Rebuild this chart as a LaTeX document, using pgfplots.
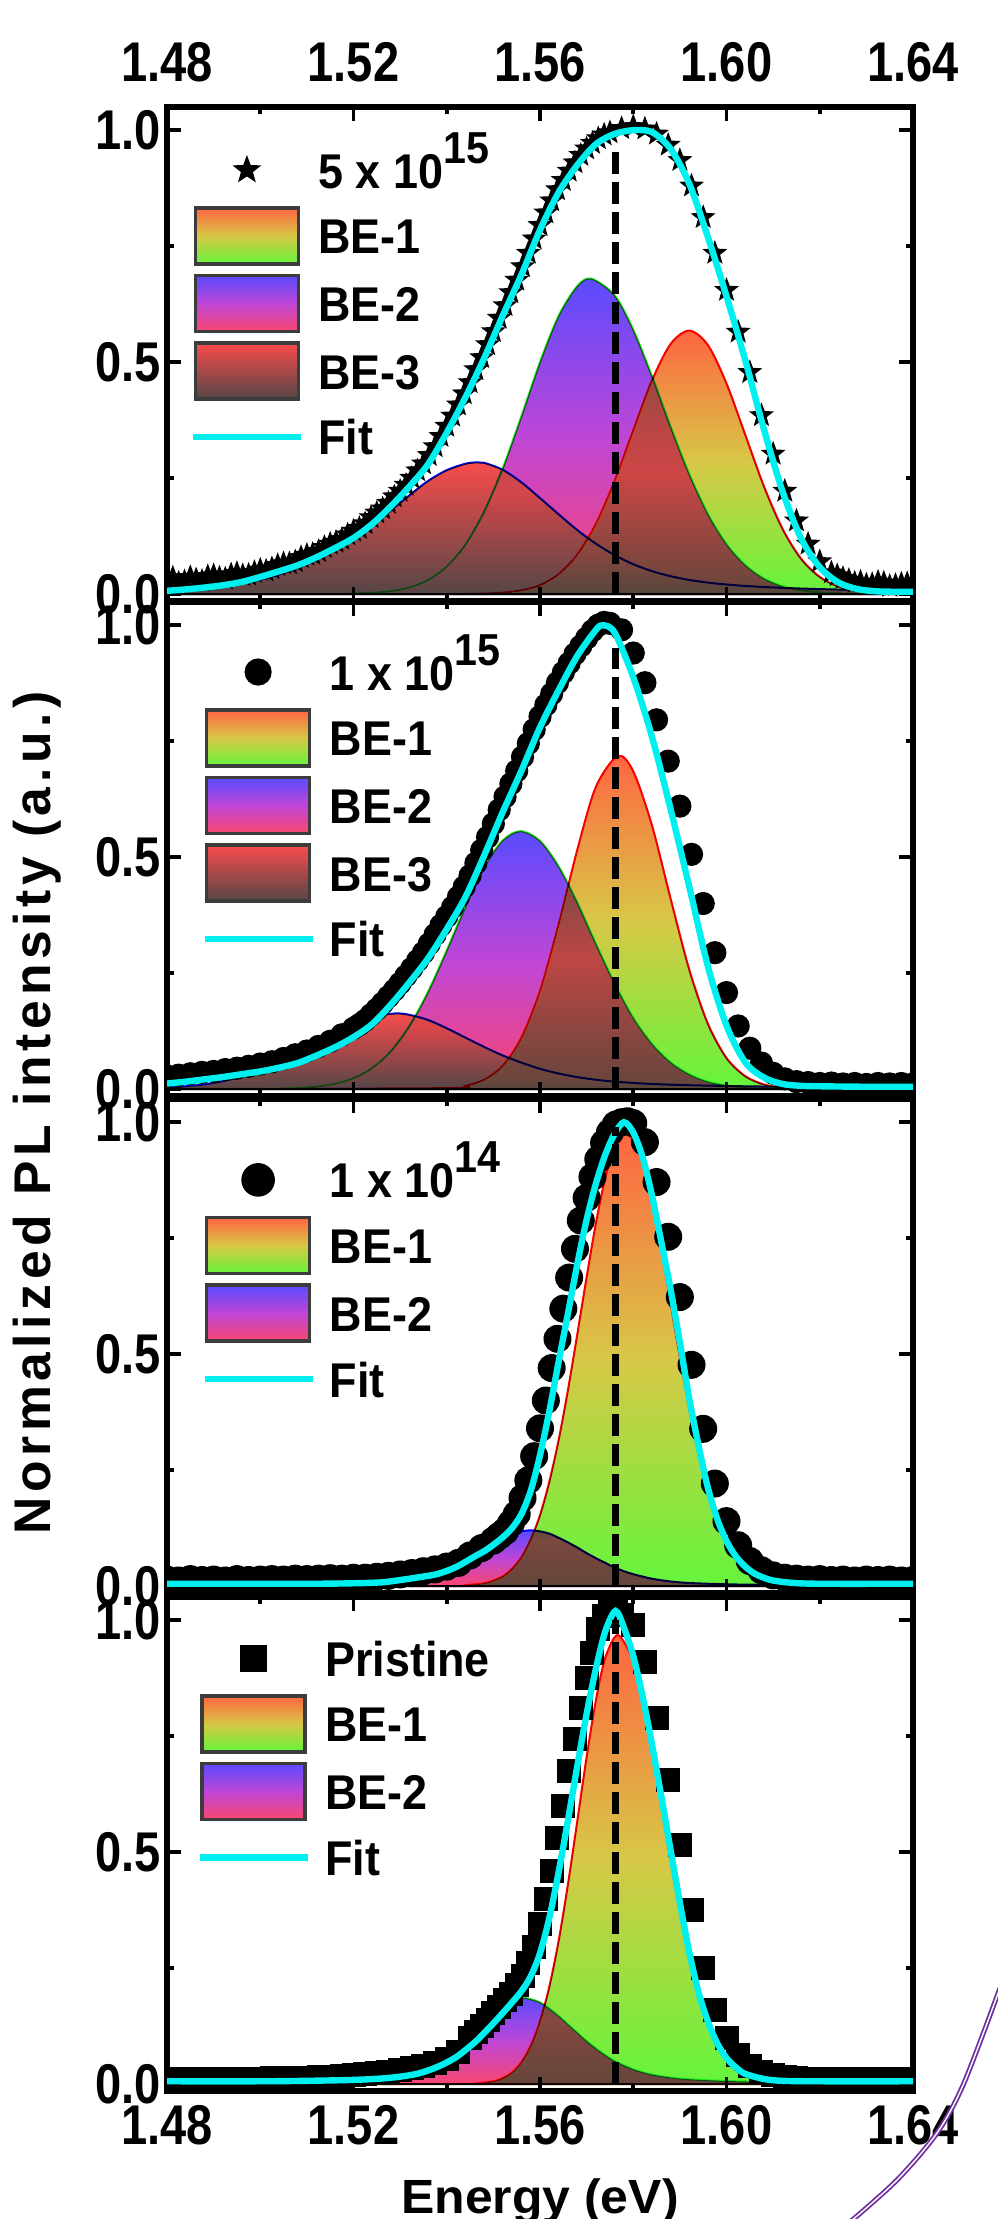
\documentclass[border=0pt]{standalone}
\usepackage{fontspec}
\setmainfont[FakeStretch=0.84]{Liberation Sans}
\newfontfamily\legfont[FakeStretch=0.92]{Liberation Sans}
\newfontfamily\xlabfont[FakeStretch=1.04]{Liberation Sans}
\newfontfamily\ylabfont[LetterSpace=9]{Liberation Sans}
\usepackage{pgfplots}
\pgfplotsset{compat=1.18}
\usetikzlibrary{shadings}

\definecolor{beoneT}{RGB}{255,100,65}
\definecolor{beoneM}{RGB}{215,200,70}
\definecolor{beoneB}{RGB}{100,245,60}
\definecolor{betwoT}{RGB}{90,75,255}
\definecolor{betwoM}{RGB}{190,70,215}
\definecolor{betwoB}{RGB}{250,70,110}
\definecolor{bethreeT}{RGB}{250,75,75}
\definecolor{bethreeB}{RGB}{85,70,70}
\definecolor{fitcyan}{RGB}{0,240,240}
\definecolor{arcpurple}{RGB}{112,48,160}
\definecolor{legborder}{RGB}{60,60,60}
\definecolor{outgreen}{RGB}{20,235,20}

\pgfdeclareplotmark{fstar}{%
 \pgfpathmoveto{\pgfpointpolar{90}{\pgfplotmarksize}}%
 \pgfpathlineto{\pgfpointpolar{126}{0.42\pgfplotmarksize}}%
 \pgfpathlineto{\pgfpointpolar{162}{\pgfplotmarksize}}%
 \pgfpathlineto{\pgfpointpolar{198}{0.42\pgfplotmarksize}}%
 \pgfpathlineto{\pgfpointpolar{234}{\pgfplotmarksize}}%
 \pgfpathlineto{\pgfpointpolar{270}{0.42\pgfplotmarksize}}%
 \pgfpathlineto{\pgfpointpolar{306}{\pgfplotmarksize}}%
 \pgfpathlineto{\pgfpointpolar{342}{0.42\pgfplotmarksize}}%
 \pgfpathlineto{\pgfpointpolar{18}{\pgfplotmarksize}}%
 \pgfpathlineto{\pgfpointpolar{54}{0.42\pgfplotmarksize}}%
 \pgfpathclose
 \pgfusepathqfillstroke}

\pgfplotsset{
 rectlegend/.style={legend image code/.code={\draw[##1] (0pt,-7pt) rectangle (25.75pt,7pt);}},
 markerlegend/.style={legend image code/.code={\path[draw=none,fill=none] (0pt,-7pt) rectangle (25.75pt,7pt); \draw[##1] plot coordinates {(12.9pt,0pt)};}},
 linelegend/.style={legend image code/.code={\path[draw=none,fill=none] (0pt,-7pt) rectangle (25.75pt,7pt); \draw[##1] (-0.5pt,0pt) -- (26.5pt,0pt);}},
 panel/.style={
  scale only axis, width=186.5pt, height=123.5pt,
  xmin=1.48, xmax=1.64, ymin=-0.015, ymax=1.05,
  xtick={1.48,1.52,1.56,1.60,1.64}, minor x tick num=1,
  ytick={0,0.5,1}, minor y tick num=1,
  tick align=inside, major tick length=3.5pt, minor tick length=1.8pt,
  every tick/.append style={black, line width=0.9pt},
  axis line style={line width=1.3pt},
  /pgf/number format/assume math mode=true,
  tick label style={font=\fontsize{14}{16}\selectfont\bfseries},
  xticklabel style={/pgf/number format/fixed, /pgf/number format/fixed zerofill, /pgf/number format/precision=2},
  yticklabel style={xshift=2pt, /pgf/number format/fixed, /pgf/number format/fixed zerofill, /pgf/number format/precision=1},
  clip marker paths=true,
  legend cell align=left,
  legend style={draw=none, fill=none, anchor=north west, inner sep=0pt, outer sep=0pt,
    row sep=2pt, column sep=2.5pt, font=\legfont\fontsize{12.2}{14}\selectfont\bfseries,
    nodes={inner sep=1pt, text height=9.5pt, text depth=0.5pt}},
 },
 beone/.style={smooth, draw=red, line width=0.5pt, top color=beoneT, bottom color=beoneB, middle color=beoneM, blend mode=darken, forget plot},
 betwo/.style={smooth, draw=outgreen, line width=0.5pt, top color=betwoT, bottom color=betwoB, middle color=betwoM, blend mode=darken, forget plot},
 bethree/.style={smooth, draw=blue, line width=0.5pt, top color=bethreeT, bottom color=bethreeB, blend mode=darken, forget plot},
 fitline/.style={smooth, fitcyan, line width=1.6pt, forget plot},
 dline/.style={black, line width=1.8pt, dash pattern=on 5.5pt off 2pt, forget plot},
}

\begin{document}
\begin{tikzpicture}
\useasboundingbox (0,0) rectangle (249.25pt,-554.75pt);

% ---------------- Panel 1 : 5 x 10^15 ----------------
\begin{axis}[panel, at={(41.75pt,-26.75pt)}, anchor=north west,
  xticklabel pos=upper, xticklabel style={yshift=2.6pt},
  legend style={at={(0.031,0.929)}}]
\addlegendimage{only marks, mark=fstar, mark size=3.2pt, black, markerlegend}
\addlegendentry{5 x 10\raisebox{6.25pt}{\fontsize{11.2}{12}\selectfont 15}}
\addlegendimage{rectlegend, draw=legborder, line width=0.9pt, top color=beoneT, bottom color=beoneB, middle color=beoneM}
\addlegendentry{BE-1}
\addlegendimage{rectlegend, draw=legborder, line width=0.9pt, top color=betwoT, bottom color=betwoB, middle color=betwoM}
\addlegendentry{BE-2}
\addlegendimage{rectlegend, draw=legborder, line width=0.9pt, top color=bethreeT, bottom color=bethreeB}
\addlegendentry{BE-3}
\addlegendimage{linelegend, fitcyan, line width=1.6pt}
\addlegendentry{Fit}

\addplot[only marks, mark=fstar, mark size=2.7pt, black, forget plot] coordinates {
(1.4800,0.030) (1.48125,0.035) (1.4825,0.024) (1.48375,0.027) (1.4850,0.036) (1.48625,0.031) (1.4875,0.028) (1.48875,0.038) (1.4900,0.040) (1.49125,0.035) (1.4925,0.033) (1.49375,0.042) (1.4950,0.045) (1.49625,0.040) (1.4975,0.041) (1.49875,0.047)
(1.5000,0.052) (1.50125,0.050) (1.5025,0.055) (1.50375,0.062) (1.5050,0.066) (1.50625,0.066) (1.5075,0.070) (1.50875,0.079) (1.5100,0.084) (1.51125,0.086) (1.5125,0.092) (1.51375,0.101) (1.5150,0.108) (1.51625,0.112) (1.5175,0.118) (1.51875,0.128)
(1.5200,0.136) (1.52125,0.142) (1.5225,0.152) (1.52375,0.165) (1.5250,0.175) (1.52625,0.184) (1.5275,0.196) (1.52875,0.210) (1.5300,0.222) (1.53125,0.235) (1.5325,0.250) (1.53375,0.266) (1.5350,0.281) (1.53625,0.299) (1.5375,0.318) (1.53875,0.340)
(1.5400,0.362) (1.54125,0.384) (1.5425,0.408) (1.54375,0.432) (1.5450,0.456) (1.54625,0.484) (1.5475,0.510) (1.54875,0.538) (1.5500,0.566) (1.55125,0.595) (1.5525,0.622) (1.55375,0.650) (1.5550,0.677) (1.55625,0.706) (1.5575,0.735) (1.55875,0.766)
(1.5600,0.795) (1.56125,0.822) (1.5625,0.848) (1.56375,0.872) (1.5650,0.892) (1.56625,0.912) (1.5675,0.930) (1.56875,0.946) (1.5700,0.960) (1.57125,0.972) (1.5725,0.982) (1.57375,0.990) (1.5750,0.995) (1.5775,1.004) (1.5800,1.008) (1.5825,1.003) (1.5850,0.992) (1.5875,0.968)
(1.5900,0.935) (1.5925,0.880) (1.5950,0.812) (1.5975,0.735) (1.6000,0.655) (1.6025,0.565) (1.6050,0.478) (1.6075,0.385)
(1.6100,0.302) (1.6125,0.222) (1.6150,0.158) (1.6175,0.108) (1.6200,0.070) (1.6225,0.046) (1.62375,0.040) (1.6250,0.034) (1.62625,0.030) (1.6275,0.024) (1.62875,0.026)
(1.6300,0.020) (1.63125,0.021) (1.6325,0.026) (1.63375,0.024) (1.6350,0.017) (1.63625,0.019) (1.6375,0.022) (1.63875,0.023) (1.6400,0.018)};

\addplot[beone] coordinates {
(1.48,0) (1.54,0) (1.544,0.0003) (1.548,0.001) (1.552,0.003) (1.556,0.008) (1.560,0.019) (1.564,0.043) (1.568,0.085) (1.572,0.152) (1.576,0.244) (1.580,0.353) (1.584,0.460) (1.588,0.539) (1.592,0.568) (1.596,0.537) (1.600,0.454) (1.604,0.344) (1.608,0.233) (1.612,0.141) (1.616,0.076) (1.620,0.037) (1.624,0.016) (1.628,0.006) (1.632,0.002) (1.636,0.001) (1.64,0)} \closedcycle;

\addplot[betwo] coordinates {
(1.48,0) (1.516,0) (1.520,0.001) (1.524,0.0025) (1.528,0.006) (1.532,0.014) (1.536,0.030) (1.540,0.059) (1.544,0.106) (1.548,0.177) (1.552,0.271) (1.556,0.383) (1.560,0.500) (1.564,0.600) (1.568,0.664) (1.571,0.680) (1.576,0.644) (1.580,0.570) (1.584,0.470) (1.588,0.361) (1.592,0.259) (1.596,0.173) (1.600,0.108) (1.604,0.063) (1.608,0.034) (1.612,0.017) (1.616,0.008) (1.620,0.0036) (1.624,0.0015) (1.628,0.0005) (1.64,0)} \closedcycle;

\addplot[bethree] coordinates {
(1.480,0.008) (1.484,0.010) (1.488,0.013) (1.492,0.017) (1.496,0.023) (1.500,0.031) (1.504,0.042) (1.508,0.056) (1.512,0.074) (1.516,0.094) (1.520,0.117) (1.524,0.146) (1.528,0.180) (1.532,0.213) (1.536,0.244) (1.540,0.267) (1.544,0.281) (1.5465,0.284) (1.548,0.283) (1.552,0.268) (1.556,0.241) (1.560,0.207) (1.564,0.172) (1.568,0.138) (1.572,0.1085) (1.576,0.084) (1.580,0.0644) (1.584,0.0495) (1.588,0.0385) (1.592,0.0304) (1.596,0.0247) (1.600,0.0206) (1.604,0.0175) (1.608,0.0152) (1.612,0.0134) (1.616,0.0119) (1.620,0.0107) (1.624,0.0097) (1.628,0.0088) (1.632,0.0081) (1.636,0.0074) (1.640,0.0068)} \closedcycle;

\addplot[fitline] coordinates {
(1.480,0.007) (1.484,0.010) (1.488,0.014) (1.492,0.019) (1.496,0.026) (1.500,0.037) (1.504,0.049) (1.508,0.062) (1.512,0.079) (1.516,0.099) (1.520,0.121) (1.524,0.151) (1.528,0.189) (1.532,0.232) (1.536,0.280) (1.540,0.348) (1.544,0.424) (1.548,0.508) (1.552,0.600) (1.556,0.688) (1.560,0.785) (1.564,0.866) (1.568,0.925) (1.572,0.970) (1.576,0.992) (1.580,1.000) (1.584,0.996) (1.588,0.960) (1.592,0.885) (1.596,0.770) (1.600,0.642) (1.604,0.505) (1.608,0.356) (1.612,0.222) (1.616,0.120) (1.620,0.058) (1.624,0.025) (1.628,0.011) (1.632,0.006) (1.636,0.005) (1.640,0.005)};

\addplot[dline] coordinates {(1.5762,0) (1.5762,0.97)};
\end{axis}

% ---------------- Panel 2 : 1 x 10^15 ----------------
\begin{axis}[panel, at={(41.75pt,-150.5pt)}, anchor=north west,
  xticklabels={}, legend style={at={(0.046,0.915)}}]
\addlegendimage{only marks, mark=*, mark size=3.2pt, black, markerlegend}
\addlegendentry{1 x 10\raisebox{6.25pt}{\fontsize{11.2}{12}\selectfont 15}}
\addlegendimage{rectlegend, draw=legborder, line width=0.9pt, top color=beoneT, bottom color=beoneB, middle color=beoneM}
\addlegendentry{BE-1}
\addlegendimage{rectlegend, draw=legborder, line width=0.9pt, top color=betwoT, bottom color=betwoB, middle color=betwoM}
\addlegendentry{BE-2}
\addlegendimage{rectlegend, draw=legborder, line width=0.9pt, top color=bethreeT, bottom color=bethreeB}
\addlegendentry{BE-3}
\addlegendimage{linelegend, fitcyan, line width=1.6pt}
\addlegendentry{Fit}

\addplot[only marks, mark=*, mark size=2.7pt, black, forget plot] coordinates {
(1.4800,0.028) (1.4825,0.030) (1.4850,0.033) (1.4875,0.036) (1.4900,0.038) (1.4925,0.042) (1.4950,0.045) (1.4975,0.049) (1.5000,0.054) (1.5025,0.059) (1.5050,0.066) (1.5075,0.074) (1.5100,0.082) (1.5125,0.092) (1.5150,0.103) (1.5175,0.117)
(1.5200,0.131) (1.52125,0.139) (1.5225,0.148) (1.52375,0.160) (1.5250,0.172) (1.52625,0.185) (1.5275,0.199) (1.52875,0.213) (1.5300,0.228) (1.53125,0.244) (1.5325,0.260) (1.53375,0.277) (1.5350,0.294) (1.53625,0.313) (1.5375,0.333) (1.53875,0.353)
(1.5400,0.372) (1.54125,0.392) (1.5425,0.414) (1.54375,0.436) (1.5450,0.460) (1.54625,0.487) (1.5475,0.515) (1.54875,0.543) (1.5500,0.572) (1.55125,0.602) (1.5525,0.630) (1.55375,0.658) (1.5550,0.686) (1.55625,0.716) (1.5575,0.745) (1.55875,0.775)
(1.5600,0.803) (1.56125,0.828) (1.5625,0.852) (1.56375,0.876) (1.5650,0.898) (1.56625,0.918) (1.5675,0.938) (1.56875,0.955) (1.5700,0.972) (1.57125,0.988) (1.5725,1.000) (1.57375,1.006) (1.5750,1.004) (1.5775,0.990)
(1.5800,0.940) (1.5825,0.876) (1.5850,0.796) (1.5875,0.707) (1.5900,0.610) (1.5925,0.506) (1.5950,0.400) (1.5975,0.294)
(1.6000,0.208) (1.6025,0.136) (1.6050,0.088) (1.6075,0.056) (1.6100,0.034) (1.6125,0.022) (1.6150,0.016) (1.6175,0.014) (1.6200,0.012) (1.6225,0.013) (1.6250,0.011) (1.6275,0.012) (1.6300,0.010) (1.6325,0.012) (1.6350,0.011) (1.6375,0.012) (1.6400,0.011)};

\addplot[beone] coordinates {
(1.48,0) (1.540,0.002) (1.544,0.007) (1.548,0.020) (1.552,0.050) (1.556,0.111) (1.560,0.212) (1.564,0.355) (1.568,0.516) (1.572,0.652) (1.5767,0.718) (1.580,0.685) (1.584,0.569) (1.588,0.411) (1.592,0.258) (1.596,0.141) (1.600,0.067) (1.604,0.028) (1.608,0.010) (1.612,0.003) (1.616,0.001) (1.64,0)} \closedcycle;

\addplot[betwo] coordinates {
(1.48,0) (1.500,0) (1.504,0.001) (1.508,0.002) (1.512,0.005) (1.516,0.011) (1.520,0.023) (1.524,0.045) (1.528,0.081) (1.532,0.136) (1.536,0.210) (1.540,0.299) (1.544,0.393) (1.548,0.478) (1.552,0.536) (1.5558,0.556) (1.560,0.535) (1.564,0.480) (1.568,0.402) (1.572,0.313) (1.576,0.228) (1.580,0.154) (1.584,0.098) (1.588,0.058) (1.592,0.032) (1.596,0.016) (1.600,0.008) (1.604,0.003) (1.608,0.001) (1.64,0)} \closedcycle;

\addplot[bethree] coordinates {
(1.480,0.003) (1.484,0.006) (1.488,0.010) (1.492,0.017) (1.496,0.027) (1.500,0.041) (1.504,0.058) (1.508,0.079) (1.512,0.101) (1.516,0.123) (1.520,0.143) (1.524,0.156) (1.529,0.163) (1.532,0.160) (1.536,0.149) (1.540,0.131) (1.544,0.111) (1.548,0.091) (1.552,0.0725) (1.556,0.057) (1.560,0.0437) (1.564,0.0335) (1.568,0.0258) (1.572,0.020) (1.576,0.016) (1.580,0.0132) (1.584,0.011) (1.588,0.0095) (1.592,0.0083) (1.600,0.0066) (1.610,0.0052) (1.620,0.0041) (1.640,0.0028)} \closedcycle;

\addplot[fitline] coordinates {
(1.480,0.012) (1.484,0.016) (1.488,0.021) (1.492,0.026) (1.496,0.032) (1.500,0.038) (1.504,0.046) (1.508,0.056) (1.512,0.072) (1.516,0.090) (1.520,0.112) (1.524,0.140) (1.528,0.182) (1.532,0.230) (1.536,0.282) (1.540,0.345) (1.544,0.414) (1.548,0.503) (1.552,0.597) (1.556,0.686) (1.560,0.780) (1.564,0.860) (1.568,0.934) (1.572,0.990) (1.5735,1.000) (1.576,0.984) (1.580,0.888) (1.584,0.760) (1.588,0.604) (1.592,0.437) (1.596,0.265) (1.600,0.137) (1.604,0.058) (1.608,0.025) (1.612,0.011) (1.616,0.007) (1.620,0.006) (1.630,0.005) (1.640,0.005)};

\addplot[dline] coordinates {(1.5762,0) (1.5762,0.95)};
\end{axis}

% ---------------- Panel 3 : 1 x 10^14 ----------------
\begin{axis}[panel, at={(41.75pt,-274.75pt)}, anchor=north west,
  xticklabels={}, legend style={at={(0.046,0.893)}}]
\addlegendimage{only marks, mark=*, mark size=4pt, black, markerlegend}
\addlegendentry{1 x 10\raisebox{6.25pt}{\fontsize{11.2}{12}\selectfont 14}}
\addlegendimage{rectlegend, draw=legborder, line width=0.9pt, top color=beoneT, bottom color=beoneB, middle color=beoneM}
\addlegendentry{BE-1}
\addlegendimage{rectlegend, draw=legborder, line width=0.9pt, top color=betwoT, bottom color=betwoB, middle color=betwoM}
\addlegendentry{BE-2}
\addlegendimage{linelegend, fitcyan, line width=1.6pt}
\addlegendentry{Fit}

\addplot[only marks, mark=*, mark size=3.3pt, black, forget plot] coordinates {
(1.4800,0.014) (1.4825,0.012) (1.4850,0.015) (1.4875,0.013) (1.4900,0.014) (1.4925,0.012) (1.4950,0.015) (1.4975,0.013) (1.5000,0.014) (1.5025,0.015) (1.5050,0.014) (1.5075,0.016) (1.5100,0.015) (1.5125,0.016) (1.5150,0.017) (1.5175,0.016)
(1.5200,0.018) (1.5225,0.018) (1.5250,0.020) (1.5275,0.022) (1.5300,0.025) (1.5325,0.028) (1.5350,0.032) (1.5375,0.036) (1.5400,0.042) (1.5425,0.050) (1.5450,0.066) (1.5475,0.082) (1.5500,0.098) (1.55125,0.108) (1.5525,0.118) (1.55375,0.135)
(1.5550,0.155) (1.55625,0.190) (1.5575,0.228) (1.55875,0.280) (1.5600,0.340) (1.56125,0.400) (1.5625,0.470) (1.56375,0.533) (1.5650,0.598) (1.56625,0.665) (1.5675,0.727) (1.56875,0.788) (1.5700,0.837) (1.57125,0.882) (1.5725,0.920) (1.57375,0.955)
(1.5750,0.978) (1.57625,0.995) (1.5775,1.000) (1.57875,1.002) (1.5800,0.998) (1.5825,0.957) (1.5850,0.871) (1.5875,0.753) (1.5900,0.623) (1.5925,0.477)
(1.5950,0.339) (1.5975,0.221) (1.6000,0.140) (1.6025,0.088) (1.6050,0.054) (1.6075,0.034) (1.6100,0.023) (1.6125,0.018) (1.6150,0.016) (1.6175,0.014) (1.6200,0.015) (1.6225,0.013) (1.6250,0.014) (1.6275,0.012) (1.6300,0.014) (1.6325,0.013) (1.6350,0.014) (1.6375,0.012) (1.6400,0.013)};

\addplot[beone] coordinates {
(1.48,0) (1.540,0) (1.544,0.002) (1.548,0.006) (1.550,0.012) (1.552,0.021) (1.554,0.037) (1.556,0.062) (1.558,0.100) (1.560,0.153) (1.562,0.225) (1.564,0.315) (1.566,0.423) (1.568,0.543) (1.570,0.666) (1.572,0.783) (1.574,0.880) (1.576,0.947) (1.578,0.975) (1.580,0.961) (1.582,0.911) (1.584,0.830) (1.586,0.726) (1.588,0.610) (1.590,0.493) (1.592,0.383) (1.594,0.286) (1.596,0.205) (1.598,0.141) (1.600,0.094) (1.602,0.060) (1.604,0.036) (1.606,0.021) (1.608,0.012) (1.610,0.007) (1.614,0.002) (1.620,0) (1.64,0)} \closedcycle;

\addplot[betwo, draw=blue] coordinates {
(1.480,0.0009) (1.500,0.0016) (1.520,0.0037) (1.530,0.0086) (1.534,0.0142) (1.538,0.0244) (1.542,0.0406) (1.546,0.063) (1.550,0.0888) (1.552,0.101) (1.554,0.111) (1.556,0.118) (1.558,0.120) (1.560,0.118) (1.562,0.113) (1.564,0.104) (1.566,0.094) (1.568,0.083) (1.570,0.071) (1.572,0.060) (1.574,0.050) (1.576,0.040) (1.578,0.032) (1.580,0.0256) (1.584,0.0158) (1.588,0.0099) (1.592,0.0066) (1.600,0.0038) (1.610,0.0024) (1.620,0.0017) (1.640,0.001)} \closedcycle;

\addplot[fitline] coordinates {
(1.480,0.005) (1.500,0.005) (1.512,0.005) (1.520,0.006) (1.526,0.008) (1.530,0.013) (1.534,0.019) (1.538,0.026) (1.542,0.041) (1.546,0.064) (1.548,0.075) (1.550,0.089) (1.552,0.105) (1.554,0.125) (1.556,0.155) (1.558,0.205) (1.560,0.282) (1.562,0.377) (1.564,0.484) (1.566,0.588) (1.568,0.694) (1.570,0.790) (1.572,0.868) (1.574,0.930) (1.576,0.975) (1.578,1.000) (1.580,0.978) (1.582,0.925) (1.584,0.843) (1.586,0.743) (1.588,0.640) (1.590,0.525) (1.592,0.405) (1.594,0.303) (1.596,0.212) (1.598,0.145) (1.600,0.097) (1.602,0.064) (1.604,0.042) (1.606,0.027) (1.608,0.018) (1.610,0.012) (1.614,0.007) (1.620,0.005) (1.640,0.005)};

\addplot[dline] coordinates {(1.5762,0) (1.5762,0.99)};
\end{axis}

% ---------------- Panel 4 : Pristine ----------------
\begin{axis}[panel, at={(41.75pt,-399.25pt)}, anchor=north west,
  legend style={at={(0.040,0.933)}}]
\addlegendimage{only marks, mark=square*, mark size=3.2pt, black, markerlegend}
\addlegendentry{Pristine}
\addlegendimage{rectlegend, draw=legborder, line width=0.9pt, top color=beoneT, bottom color=beoneB, middle color=beoneM}
\addlegendentry{BE-1}
\addlegendimage{rectlegend, draw=legborder, line width=0.9pt, top color=betwoT, bottom color=betwoB, middle color=betwoM}
\addlegendentry{BE-2}
\addlegendimage{linelegend, fitcyan, line width=1.6pt}
\addlegendentry{Fit}

\addplot[only marks, mark=square*, mark size=2.8pt, black, forget plot] coordinates {
(1.4800,0.010) (1.4825,0.009) (1.4850,0.011) (1.4875,0.010) (1.4900,0.011) (1.4925,0.010) (1.4950,0.012) (1.4975,0.011) (1.5000,0.012) (1.5025,0.013) (1.5050,0.012) (1.5075,0.014) (1.5100,0.014) (1.5125,0.015) (1.5150,0.016) (1.5175,0.017)
(1.5200,0.019) (1.5225,0.021) (1.5250,0.023) (1.5275,0.026) (1.5300,0.030) (1.5325,0.034) (1.5350,0.039) (1.5375,0.045) (1.5400,0.054) (1.5425,0.070) (1.5450,0.100) (1.54625,0.113) (1.5475,0.125) (1.54875,0.139) (1.5500,0.153) (1.55125,0.167)
(1.5525,0.181) (1.55375,0.195) (1.5550,0.213) (1.55625,0.233) (1.5575,0.262) (1.55875,0.295) (1.5600,0.345) (1.56125,0.400) (1.5625,0.460) (1.56375,0.530) (1.5650,0.600) (1.56625,0.675) (1.5675,0.745) (1.56875,0.810) (1.5700,0.875) (1.57125,0.930)
(1.5725,0.980) (1.57375,1.010) (1.5750,1.025) (1.57625,1.025) (1.5775,1.012) (1.5800,0.990) (1.5825,0.910) (1.5850,0.790) (1.5875,0.655) (1.5900,0.515)
(1.5925,0.375) (1.5950,0.250) (1.5975,0.160) (1.6000,0.100) (1.6025,0.062) (1.6050,0.040) (1.6075,0.026) (1.6100,0.019) (1.6125,0.015) (1.6150,0.013) (1.6175,0.012) (1.6200,0.011) (1.6225,0.012) (1.6250,0.010) (1.6275,0.011) (1.6300,0.010) (1.6325,0.011) (1.6350,0.010) (1.6375,0.011) (1.6400,0.010)};

\addplot[beone] coordinates {
(1.48,0) (1.542,0) (1.546,0.001) (1.550,0.006) (1.552,0.013) (1.554,0.025) (1.556,0.047) (1.558,0.082) (1.560,0.135) (1.562,0.210) (1.564,0.309) (1.566,0.431) (1.568,0.567) (1.570,0.705) (1.572,0.828) (1.574,0.919) (1.5767,0.968) (1.580,0.912) (1.582,0.831) (1.584,0.725) (1.586,0.605) (1.588,0.484) (1.590,0.371) (1.592,0.272) (1.594,0.191) (1.596,0.128) (1.598,0.082) (1.600,0.051) (1.602,0.030) (1.604,0.017) (1.608,0.005) (1.612,0.001) (1.64,0)} \closedcycle;

\addplot[betwo] coordinates {
(1.480,0.0015) (1.500,0.0028) (1.510,0.0041) (1.520,0.0064) (1.526,0.0094) (1.530,0.0135) (1.534,0.0215) (1.538,0.035) (1.542,0.055) (1.546,0.088) (1.548,0.108) (1.550,0.128) (1.552,0.150) (1.554,0.170) (1.5563,0.185) (1.558,0.183) (1.560,0.176) (1.562,0.163) (1.564,0.147) (1.566,0.129) (1.568,0.111) (1.570,0.093) (1.572,0.077) (1.574,0.0626) (1.576,0.050) (1.580,0.032) (1.584,0.0207) (1.588,0.0142) (1.592,0.0104) (1.600,0.0066) (1.610,0.0045) (1.620,0.0033) (1.640,0.0019)} \closedcycle;

\addplot[fitline] coordinates {
(1.480,0.006) (1.500,0.006) (1.510,0.007) (1.520,0.009) (1.526,0.012) (1.530,0.016) (1.534,0.023) (1.538,0.037) (1.542,0.058) (1.546,0.090) (1.548,0.110) (1.550,0.131) (1.552,0.153) (1.554,0.176) (1.556,0.200) (1.558,0.232) (1.560,0.282) (1.562,0.358) (1.564,0.457) (1.566,0.569) (1.568,0.686) (1.570,0.798) (1.572,0.896) (1.574,0.976) (1.5762,1.020) (1.578,0.984) (1.580,0.923) (1.582,0.836) (1.584,0.733) (1.586,0.621) (1.588,0.505) (1.590,0.391) (1.592,0.285) (1.594,0.198) (1.596,0.135) (1.598,0.088) (1.600,0.056) (1.602,0.036) (1.604,0.022) (1.608,0.011) (1.612,0.007) (1.620,0.006) (1.640,0.006)};

\addplot[dline] coordinates {(1.5762,0) (1.5762,1.0)};
\end{axis}

% axis titles
\node[rotate=90, anchor=center] at (9.25pt,-278.25pt) {\ylabfont\fontsize{12.9}{14}\selectfont\bfseries Normalized PL intensity (a.u.)};
\node[anchor=base] at (135pt,-553.25pt) {\xlabfont\fontsize{12}{14}\selectfont\bfseries Energy (eV)};

% decorative arc at lower right of the reference
\draw[arcpurple, line width=0.45pt, double=white, double distance=0.35pt]
  plot[smooth] coordinates {(250pt,-497pt) (241pt,-520.75pt) (234.25pt,-533.25pt) (224.25pt,-545pt) (212.5pt,-555.5pt)};
\end{tikzpicture}
\end{document}
